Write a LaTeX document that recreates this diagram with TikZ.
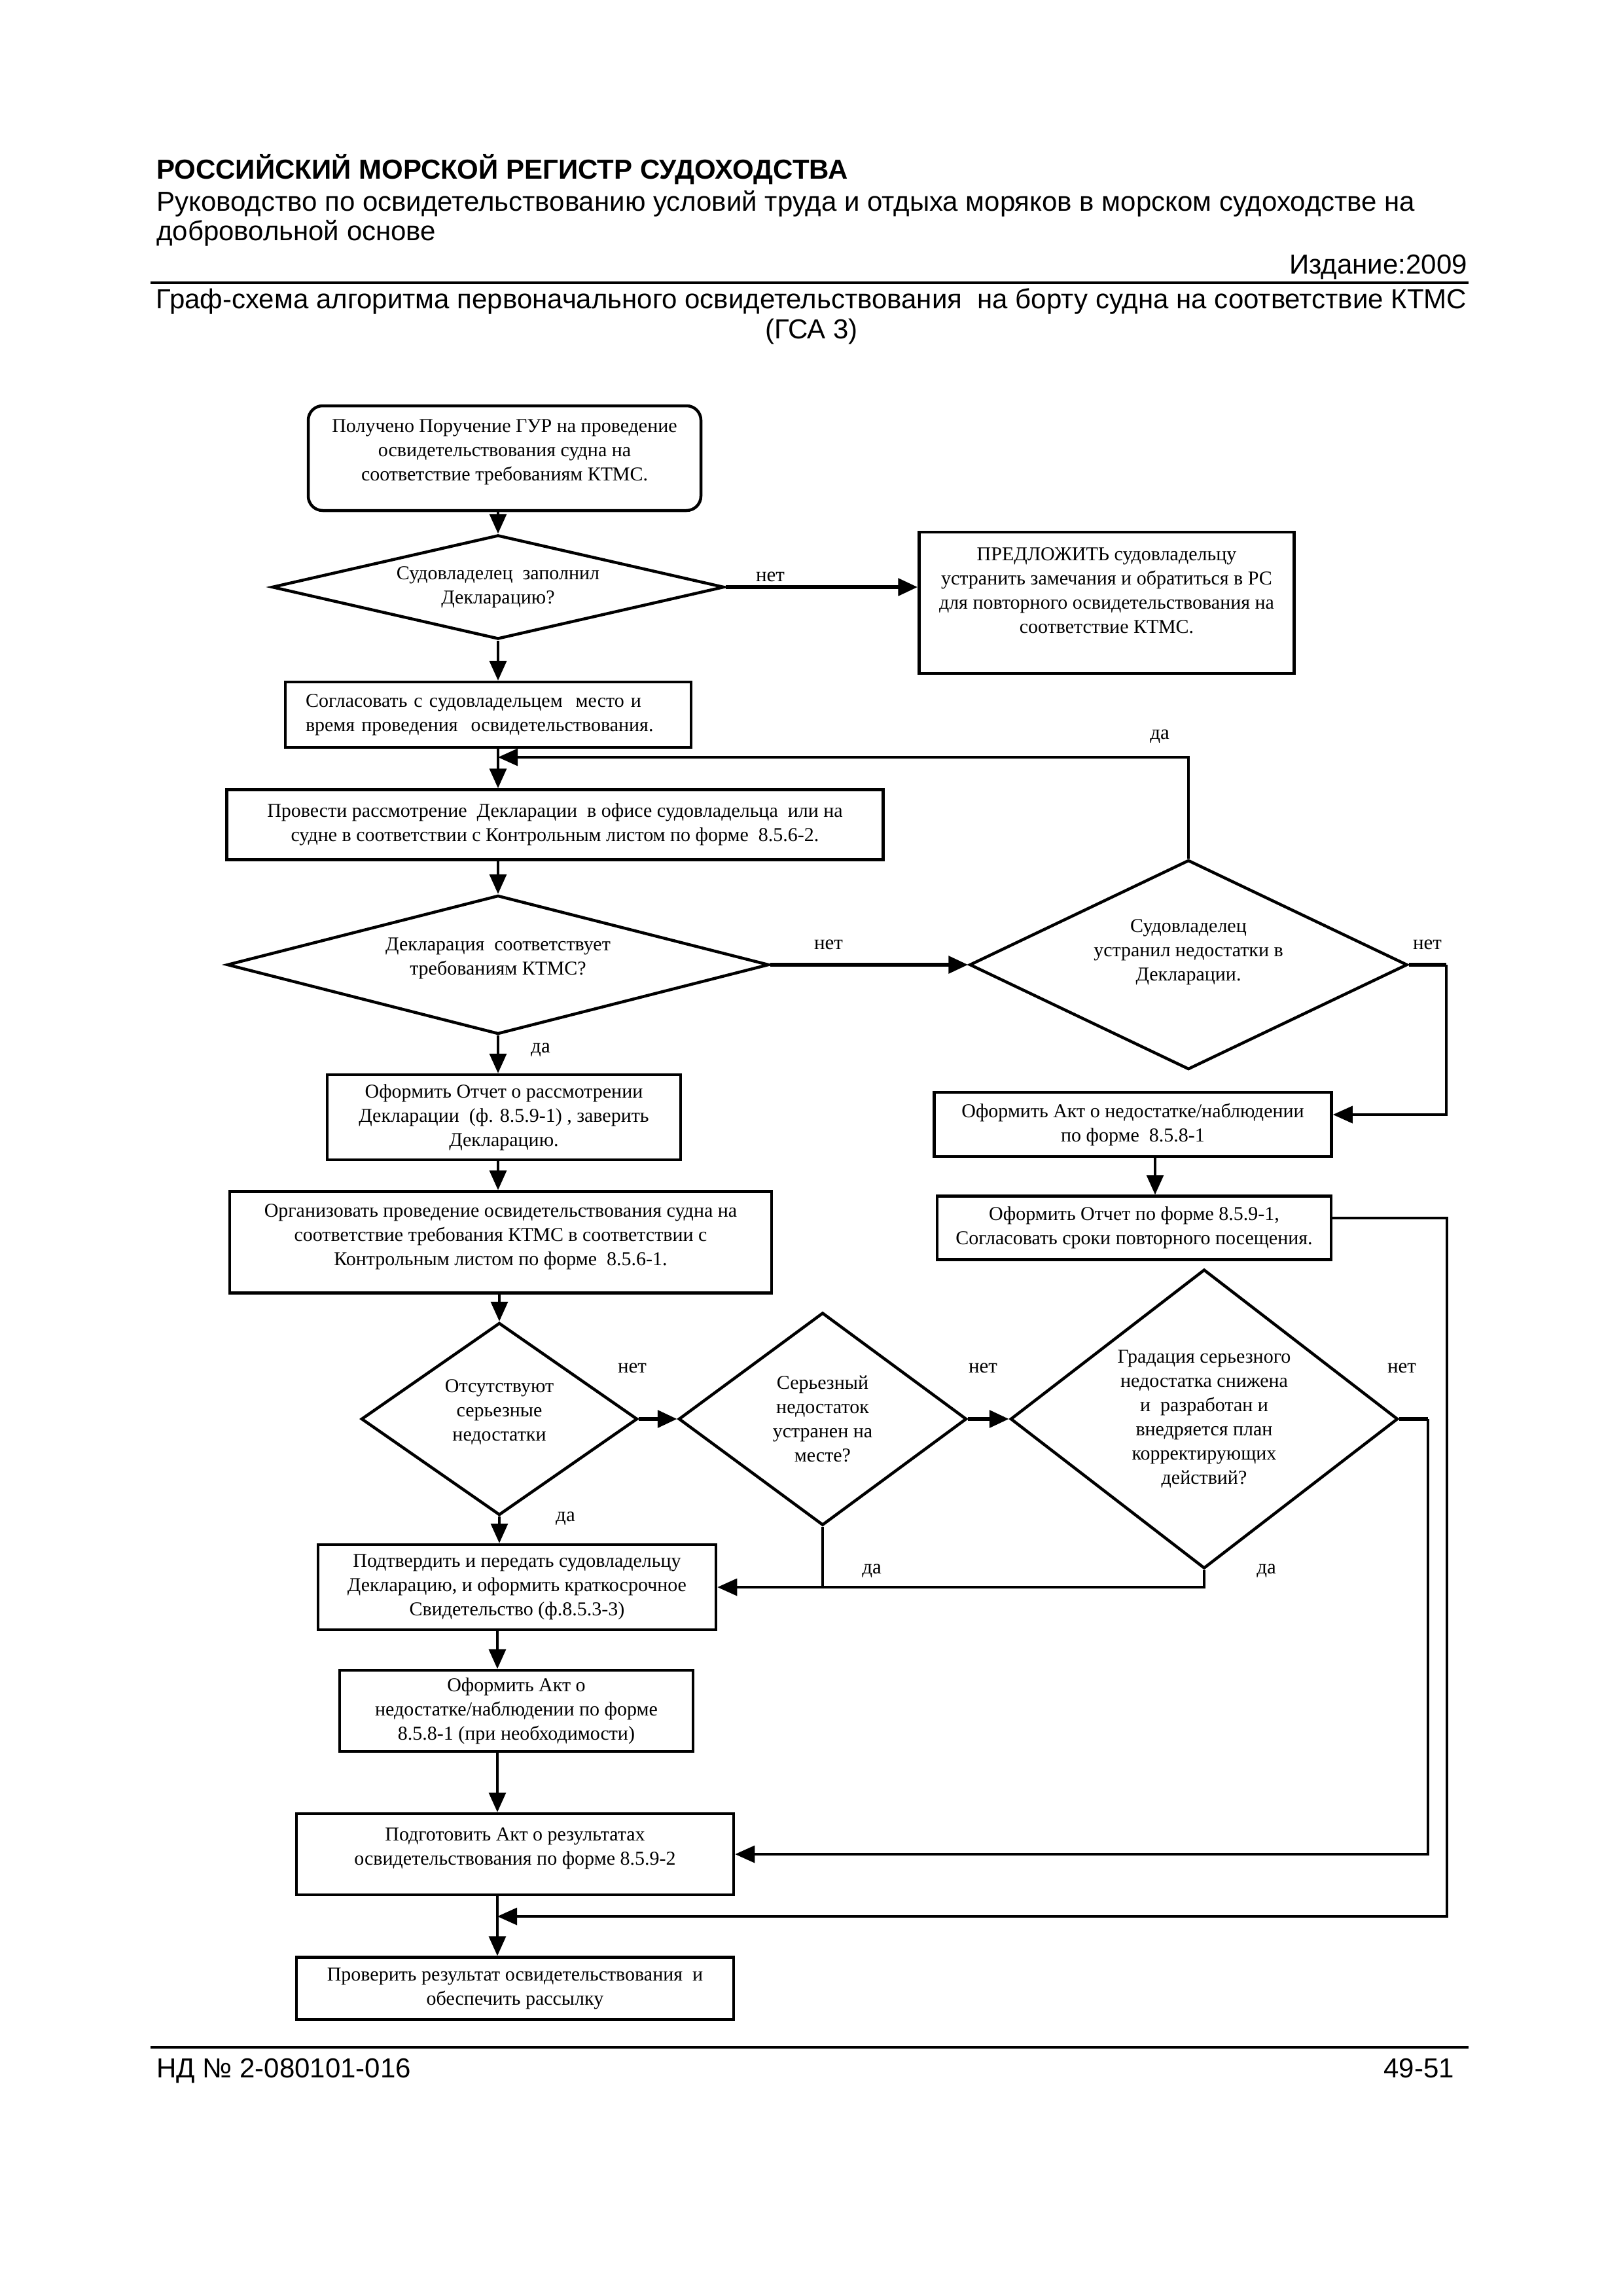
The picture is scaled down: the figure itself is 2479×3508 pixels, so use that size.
\documentclass[tikz,border=0pt]{standalone}
\usepackage{fontspec}
\setmainfont{Liberation Serif}
\newfontfamily\headfont{Liberation Sans}
\usetikzlibrary{arrows.meta,shapes.geometric}

\begin{document}
\begin{tikzpicture}[x=1pt,y=-1pt,
  box/.style={draw,line width=4.5pt,inner sep=0pt,align=center,font=\fontsize{30}{37}\selectfont},
  dec/.style={diamond,draw,line width=4.5pt,inner sep=0pt},
  dectext/.style={inner sep=0pt,align=center,font=\fontsize{30}{37}\selectfont},
  lbl/.style={inner sep=0pt,font=\fontsize{31}{36}\selectfont},
  head/.style={anchor=base west,inner sep=0pt,font=\headfont\fontsize{42}{48}\selectfont},
  line/.style={line width=3.5pt},
  link/.style={line width=3.5pt,-{Triangle[length=30pt,width=26pt]}},
  heavy/.style={line width=6pt}]
\path[use as bounding box] (0,0) rectangle (2479,3508);
\node[head,font=\headfont\bfseries\fontsize{42}{48}\selectfont] (hdr) at (239,274) {РОССИЙСКИЙ МОРСКОЙ РЕГИСТР СУДОХОДСТВА};
\node[head] (sub1) at (239,322) {Руководство по освидетельствованию условий труда и отдыха моряков в морском судоходстве на};
\node[head] (sub2) at (239,367) {добровольной основе};
\node[head,anchor=base east] (ed) at (2242,418) {Издание:2009};
\draw[line width=4.5pt] (230,432) -- (2244,432);
\node[head,anchor=base] (ttl1) at (1240,471) {Граф-схема алгоритма первоначального освидетельствования \ на борту судна на соответствие КТМС};
\node[head,anchor=base] (ttl2) at (1240,517) {(ГСА 3)};

\node[box,rounded corners=22pt,minimum width=600pt,minimum height=160pt] (start) at (771,700) {Получено Поручение ГУР на проведение\\освидетельствования судна на\\соответствие требованиям КТМС.\\[-12pt]\mbox{}};
\node[dec,minimum width=691pt,minimum height=159pt,label={[dectext]center:Судовладелец \ заполнил\\Декларацию?}] (d1) at (761,897) {};
\node[box,minimum width=573pt,minimum height=216pt] (predl) at (1691,921) {ПРЕДЛОЖИТЬ судовладельцу\\устранить замечания и обратиться в РС\\для повторного освидетельствования на\\соответствие КТМС.\\\mbox{}};
\node[box,align=left,text width=558pt,inner xsep=31pt,minimum height=100pt] (soglas) at (746,1092) {Согласовать с судовладельцем \ место и\\время проведения \ освидетельствования.};
\node[box,minimum width=1003pt,minimum height=107pt] (provesti) at (848,1260) {Провести рассмотрение \ Декларации \ в офисе судовладельца \ или на\\судне в соответствии с Контрольным листом по форме \ 8.5.6-2.};
\node[dec,minimum width=828pt,minimum height=212pt,label={[dectext,yshift=10pt]center:Декларация \ соответствует\\требованиям КТМС?}] (d2) at (761,1474) {};
\node[dec,minimum width=669pt,minimum height=320pt,label={[dectext,yshift=19pt]center:Судовладелец\\устранил недостатки в\\Декларации.}] (d3) at (1816,1474) {};
\node[box,minimum width=540pt,minimum height=130pt] (otch1) at (770,1707) {Оформить Отчет о рассмотрении\\Декларации \ (ф. 8.5.9-1) , заверить\\Декларацию.};
\node[box,minimum width=607pt,minimum height=98pt] (akt1) at (1731,1718) {Оформить Акт о недостатке/наблюдении\\по форме \ 8.5.8-1};
\node[box,minimum width=602pt,minimum height=97pt] (otch2) at (1733,1876) {Оформить Отчет по форме 8.5.9-1,\\Согласовать сроки повторного посещения.};
\node[box,minimum width=828pt,minimum height=155pt] (organiz) at (765,1898) {Организовать проведение освидетельствования судна на\\соответствие требования КТМС в соответствии с\\Контрольным листом по форме \ 8.5.6-1.\\[-14pt]\mbox{}};
\node[dec,minimum width=422pt,minimum height=294pt,label={[dectext,yshift=11pt]center:Отсутствуют\\серьезные\\недостатки}] (d4) at (763,2168) {};
\node[dec,minimum width=440pt,minimum height=325pt,label={[dectext]center:Серьезный\\недостаток\\устранен на\\месте?}] (d5) at (1257,2168) {};
\node[dec,minimum width=592pt,minimum height=457pt,label={[dectext]center:Градация серьезного\\недостатка снижена\\и \ разработан и\\внедряется план\\корректирующих\\действий?}] (d6) at (1840,2168) {};
\node[box,minimum width=608pt,minimum height=130pt] (podtv) at (790,2425) {Подтвердить и передать судовладельцу\\Декларацию, и оформить краткосрочное\\Свидетельство (ф.8.5.3-3)};
\node[box,minimum width=540pt,minimum height=124pt] (akt2) at (789,2614) {Оформить Акт о\\недостатке/наблюдении по форме\\8.5.8-1 (при необходимости)};
\node[box,minimum width=668pt,minimum height=124pt] (podg) at (787,2833) {Подготовить Акт о результатах\\освидетельствования по форме 8.5.9-2\\[-14pt]\mbox{}};
\node[box,minimum width=668pt,minimum height=95pt] (prov) at (787,3038) {Проверить результат освидетельствования \ и\\обеспечить рассылку};

\node[lbl] (no1) at (1177,881) {нет};
\node[lbl] (yes1) at (1772,1125) {да};
\node[lbl] (no2) at (1266,1443) {нет};
\node[lbl] (no3) at (2181,1443) {нет};
\node[lbl] (yes2) at (826,1604) {да};
\node[lbl] (no4) at (966,2090) {нет};
\node[lbl] (no5) at (1502,2090) {нет};
\node[lbl] (no6) at (2142,2090) {нет};
\node[lbl] (yes3) at (864,2320) {да};
\node[lbl] (yes4) at (1332,2400) {да};
\node[lbl] (yes5) at (1935,2400) {да};

\coordinate (j1) at (761,1157);
\coordinate (r1) at (2210,1474);
\coordinate (r2) at (2211,2928);
\coordinate (r3) at (2182,2168);
\coordinate (j2) at (760,2928);

\draw[link] (d1.north |- start.south) -- (d1.north);
\draw[link,heavy] (d1.east) -- (d1.east -| predl.west);
\draw[link] (d1.south) -- (d1.south |- soglas.north);
\draw[line] (j1 |- soglas.south) -- (j1);
\draw[link] (j1) -- (j1 |- provesti.north);
\draw[link] (d3.north) |- (j1);
\draw[link] (j1 |- provesti.south) -- (d2.north);
\draw[link,heavy] (d2.east) -- (d3.west);
\draw[line,heavy] (d3.east) -- (r1);
\draw[link] (r1) |- ([yshift=15pt]akt1.east);
\draw[link] (d2.south) -- (d2.south |- otch1.north);
\draw[link] (d2.south |- otch1.south) -- (d2.south |- organiz.north);
\draw[link] ([xshift=34pt]akt1.south) -- ([xshift=34pt]akt1.south |- otch2.north);
\draw[link] ([yshift=15pt]otch2.east) -| (r2) -- (j2);
\draw[link] (d4.north |- organiz.south) -- (d4.north);
\draw[link,heavy] (d4.east) -- (d5.west);
\draw[link,heavy] (d5.east) -- (d6.west);
\draw[line,heavy] (d6.east) -- (r3);
\draw[link] (r3) |- (podg.east);
\draw[link] (d4.south) -- (d4.south |- podtv.north);
\draw[line] (d5.south) -- (d5.south |- podtv.east);
\draw[link] (d6.south) |- (podtv.east);
\draw[link] (j2 |- podtv.south) -- (j2 |- akt2.north);
\draw[link] (j2 |- akt2.south) -- (j2 |- podg.north);
\draw[line] (j2 |- podg.south) -- (j2);
\draw[link] (j2) -- (j2 |- prov.north);

\draw[line width=4.5pt] (230,3128) -- (2244,3128);
\node[head] (code) at (239,3174) {НД № 2-080101-016};
\node[head,anchor=base east] (page) at (2222,3174) {49-51};
\end{tikzpicture}
\end{document}
